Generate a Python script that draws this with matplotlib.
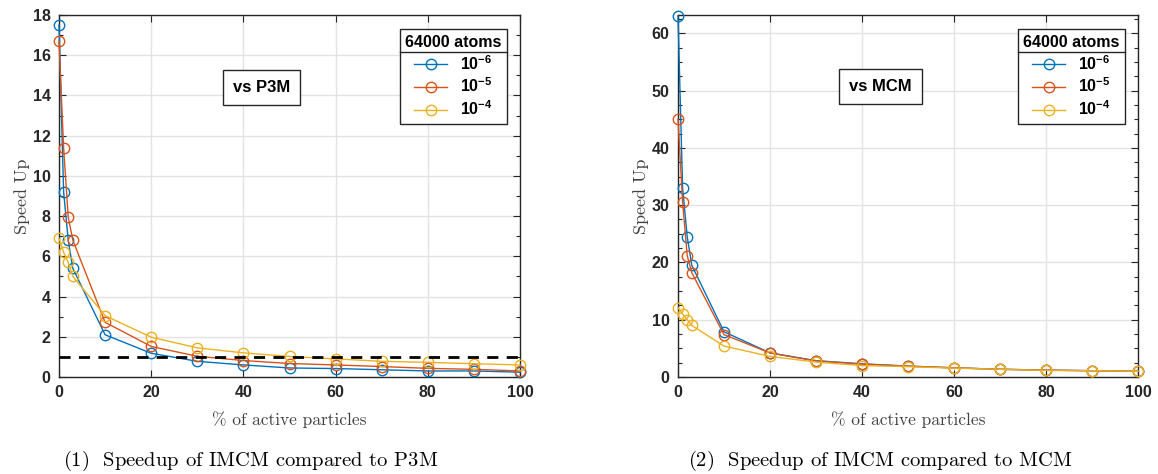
import matplotlib
matplotlib.use("Agg")
import matplotlib.pyplot as plt
from matplotlib.lines import Line2D
from matplotlib.ticker import MultipleLocator

plt.rcParams['mathtext.fontset'] = 'custom'
plt.rcParams['mathtext.rm'] = 'Liberation Sans:bold'
plt.rcParams['mathtext.it'] = 'Liberation Sans:bold'
plt.rcParams['mathtext.bf'] = 'Liberation Sans:bold'

# % of active particles
active = [0, 1, 2, 3, 10, 20, 30, 40, 50, 60, 70, 80, 90, 100]
tolerances = [r'$10^{-6}$', r'$10^{-5}$', r'$10^{-4}$']

# speedup vs P3M
p3m_1e6 = [17.5, 9.2, 6.8, 5.4, 2.1, 1.18, 0.78, 0.6, 0.45, 0.42, 0.36, 0.3, 0.3, 0.24]
p3m_1e5 = [16.7, 11.4, 7.95, 6.8, 2.72, 1.52, 1.03, 0.82, 0.67, 0.6, 0.52, 0.43, 0.38, 0.3]
p3m_1e4 = [6.9, 6.2, 5.7, 5.0, 3.05, 1.98, 1.45, 1.2, 1.02, 0.9, 0.78, 0.73, 0.66, 0.6]

# speedup vs MCM
mcm_1e6 = [63, 33, 24.5, 19.5, 7.9, 4.2, 2.85, 2.3, 1.9, 1.6, 1.35, 1.2, 1.1, 1.0]
mcm_1e5 = [45, 30.6, 21.2, 18.2, 7.4, 4.2, 2.8, 2.25, 1.9, 1.6, 1.35, 1.2, 1.1, 1.0]
mcm_1e4 = [12.1, 11.0, 10.0, 9.0, 5.4, 3.6, 2.6, 2.0, 1.8, 1.55, 1.35, 1.15, 1.1, 1.0]

colors = ['#0072BD', '#D95319', '#EDB120']
dark = '#262626'

fig = plt.figure(figsize=(11.58, 4.74), dpi=100)
ax1 = fig.add_axes([59 / 1158, 97 / 474, 461 / 1158, 362 / 474])
ax2 = fig.add_axes([678 / 1158, 97 / 474, 460 / 1158, 362 / 474])


def setup(ax, series, ymax, ymajor, yminor, box_text, box_y):
    for y, c, lab in zip(series, colors, tolerances):
        ax.plot(active, y, color=c, lw=1.0, marker='o', ms=7.5,
                mfc='none', mec=c, mew=1.0, label=lab, clip_on=False, zorder=3)
    ax.set_xlim(0, 100)
    ax.set_ylim(0, ymax)
    ax.xaxis.set_major_locator(MultipleLocator(20))
    ax.yaxis.set_major_locator(MultipleLocator(ymajor))
    ax.yaxis.set_minor_locator(MultipleLocator(yminor))
    ax.grid(True, which='major', color='#e3e3e3', lw=1.0)
    ax.set_axisbelow(True)
    for s in ax.spines.values():
        s.set_color(dark)
        s.set_linewidth(1.0)
    ax.tick_params(which='both', direction='in', top=True, right=True,
                   colors=dark, width=0.8)
    ax.tick_params(which='major', length=5, pad=6)
    ax.tick_params(which='minor', length=3)
    for lab in ax.get_xticklabels() + ax.get_yticklabels():
        lab.set_fontfamily('Liberation Sans')
        lab.set_fontweight('bold')
        lab.set_fontsize(11.5)
    ax.set_xlabel('% of active particles', fontfamily='cmr10', fontsize=12.5,
                  color='#404040', labelpad=8)
    ax.set_ylabel('Speed Up', fontfamily='cmr10', fontsize=13,
                  color='#404040', labelpad=2)
    ax.text(44, box_y, box_text, fontfamily='Liberation Sans', fontweight='bold',
            fontsize=12, ha='center', va='center',
            bbox=dict(boxstyle='square,pad=0.6', fc='white', ec=dark, lw=1.0))
    leg = ax.legend(loc='upper right', bbox_to_anchor=(0.972, 0.96),
                    title='64000 atoms', fancybox=False, framealpha=1,
                    edgecolor=dark, prop={'size': 11.5}, handlelength=2.1,
                    borderpad=0.35, labelspacing=0.25, handletextpad=0.8,
                    borderaxespad=0)
    leg.get_title().set_fontfamily('Liberation Sans')
    leg.get_title().set_fontweight('bold')
    leg.get_title().set_fontsize(11.5)
    leg.get_frame().set_linewidth(1.0)
    return leg


leg1 = setup(ax1, [p3m_1e6, p3m_1e5, p3m_1e4], 18, 2, 1, 'vs P3M', 14.4)
ax1.axhline(1, color='black', lw=2, ls=(0, (4, 3)), zorder=4)
leg2 = setup(ax2, [mcm_1e6, mcm_1e5, mcm_1e4], 63.2, 10, 2.5, 'vs MCM', 50.7)

fig.text(251 / 1158, 13 / 474,
         r'$\mathbf{(1)}$  Speedup of IMCM compared to P3M',
         fontfamily='cmr10', math_fontfamily='cm', fontsize=14.8,
         ha='center', va='center', color='black')
fig.text(880 / 1158, 13 / 474,
         r'$\mathbf{(2)}$  Speedup of IMCM compared to MCM',
         fontfamily='cmr10', math_fontfamily='cm', fontsize=14.8,
         ha='center', va='center', color='black')

# separator line under the legend title, like MATLAB
fig.canvas.draw()
for leg in (leg1, leg2):
    bb = leg.get_window_extent()
    tb = leg.get_title().get_window_extent()
    y = tb.y0 - 2
    fig.add_artist(Line2D([bb.x0, bb.x1], [y, y], transform=None,
                          color=dark, lw=1.0))

fig.savefig('out.png', dpi=100)
